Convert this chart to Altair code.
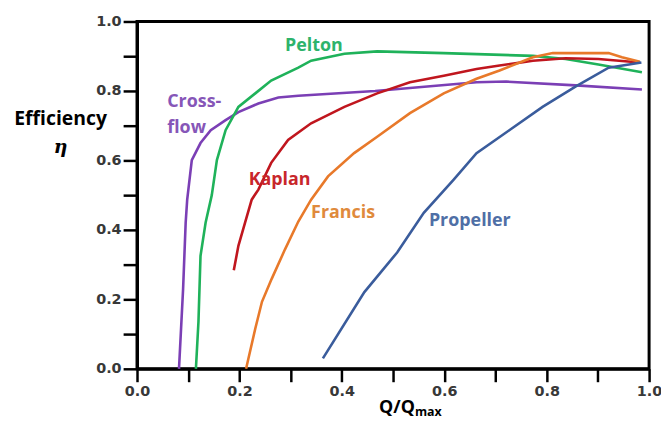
import altair as alt
import pandas as pd

# ---- data ----
crossflow_q = [0.082, 0.090, 0.095, 0.098, 0.107, 0.124, 0.144, 0.173, 0.198, 0.237, 0.276, 0.315, 0.465, 0.663, 0.721, 0.857, 0.986]
crossflow_eta = [0.0, 0.23, 0.42, 0.487, 0.601, 0.65, 0.687, 0.716, 0.739, 0.764, 0.781, 0.786, 0.800, 0.825, 0.827, 0.816, 0.804]

pelton_q = [0.115, 0.120, 0.124, 0.134, 0.146, 0.156, 0.173, 0.198, 0.231, 0.262, 0.315, 0.340, 0.405, 0.469, 0.599, 0.773, 0.837, 0.901, 0.986]
pelton_eta = [0.0, 0.136, 0.325, 0.421, 0.50, 0.601, 0.687, 0.754, 0.793, 0.83, 0.867, 0.887, 0.907, 0.914, 0.909, 0.901, 0.892, 0.876, 0.854]

kaplan_q = [0.189, 0.198, 0.211, 0.224, 0.237, 0.262, 0.295, 0.340, 0.405, 0.469, 0.533, 0.599, 0.663, 0.708, 0.773, 0.837, 0.901, 0.982]
kaplan_eta = [0.284, 0.354, 0.421, 0.487, 0.516, 0.593, 0.659, 0.707, 0.754, 0.793, 0.825, 0.844, 0.863, 0.873, 0.887, 0.894, 0.892, 0.882]

francis_q = [0.213, 0.231, 0.244, 0.263, 0.289, 0.315, 0.340, 0.373, 0.424, 0.469, 0.533, 0.599, 0.663, 0.708, 0.773, 0.812, 0.921, 0.947, 0.982]
francis_eta = [0.0, 0.116, 0.193, 0.259, 0.344, 0.424, 0.487, 0.554, 0.621, 0.668, 0.736, 0.793, 0.835, 0.859, 0.897, 0.909, 0.909, 0.897, 0.884]

propeller_q = [0.363, 0.444, 0.508, 0.560, 0.618, 0.663, 0.727, 0.792, 0.857, 0.921, 0.985]
propeller_eta = [0.030, 0.221, 0.335, 0.449, 0.544, 0.621, 0.687, 0.754, 0.813, 0.867, 0.882]

series_names = ["Cross-flow", "Pelton", "Kaplan", "Francis", "Propeller"]
series_colors = ["#7B3FB5", "#1FB25A", "#C0161E", "#E8792A", "#3A5C9C"]
label_colors = ["#8656B8", "#2DB36B", "#C8262B", "#E08A3C", "#4F6FA6"]

label_text = ["Pelton", "Cross-", "flow", "Kaplan", "Francis", "Propeller"]
label_q = [0.289, 0.059, 0.059, 0.218, 0.340, 0.570]
label_eta = [0.916, 0.753, 0.679, 0.530, 0.433, 0.411]
label_series = ["Pelton", "Cross-flow", "Cross-flow", "Kaplan", "Francis", "Propeller"]

tick_values = [0.0, 0.1, 0.2, 0.3, 0.4, 0.5, 0.6, 0.7, 0.8, 0.9, 1.0]

# ---- build tables ----
rows = []
for name, qs, es in [
    ("Cross-flow", crossflow_q, crossflow_eta),
    ("Pelton", pelton_q, pelton_eta),
    ("Kaplan", kaplan_q, kaplan_eta),
    ("Francis", francis_q, francis_eta),
    ("Propeller", propeller_q, propeller_eta),
]:
    for i, (q, e) in enumerate(zip(qs, es)):
        rows.append({"series": name, "q": q, "eta": e, "idx": i})
df = pd.DataFrame(rows)

labels = pd.DataFrame({"text": label_text, "q": label_q, "eta": label_eta, "series": label_series})

FONT = "Open Sans"
label_expr = "round(datum.value*10) % 2 == 0 ? format(datum.value, '.1f') : ''"

x_scale = alt.Scale(domain=[0, 1], nice=False)
y_scale = alt.Scale(domain=[0, 1], nice=False)

x_axis = alt.Axis(values=tick_values, labelExpr=label_expr, labelPadding=3, tickSize=13, title=None)
y_axis = alt.Axis(values=tick_values, labelExpr=label_expr, labelPadding=2, tickSize=14, title=None)

lines = alt.Chart(df).mark_line(strokeWidth=2.6, clip=False).encode(
    x=alt.X("q:Q", scale=x_scale, axis=x_axis),
    y=alt.Y("eta:Q", scale=y_scale, axis=y_axis),
    color=alt.Color("series:N", scale=alt.Scale(domain=series_names, range=series_colors), legend=None),
    detail="series:N",
    order="idx:Q",
)

texts = alt.Chart(labels).mark_text(
    font=FONT, fontSize=18, fontWeight="bold", align="left", baseline="alphabetic"
).encode(
    x=alt.X("q:Q", axis=x_axis), y=alt.Y("eta:Q", axis=y_axis), text="text:N",
    color=alt.Color("series:N", scale=alt.Scale(domain=series_names, range=label_colors), legend=None),
)

title_df = pd.DataFrame({"t": ["Efficiency", "η", "Q/Q", "max"]})

eff = alt.Chart(title_df[title_df.t == "Efficiency"]).mark_text(
    font=FONT, fontSize=19.5, fontWeight="bold", color="black", align="center", baseline="alphabetic"
).encode(text="t:N", x=alt.value(-77), y=alt.value(104.5))

eta_t = alt.Chart(title_df[title_df.t == "η"]).mark_text(
    font="DejaVu Serif", fontSize=19, fontWeight="bold", fontStyle="italic", color="black",
    align="center", baseline="alphabetic"
).encode(text="t:N", x=alt.value(-77), y=alt.value(133))

qq = alt.Chart(title_df[title_df.t == "Q/Q"]).mark_text(
    font=FONT, fontSize=18, fontWeight="bold", color="black", align="right", baseline="alphabetic"
).encode(text="t:N", x=alt.value(280), y=alt.value(395))

qmax = alt.Chart(title_df[title_df.t == "max"]).mark_text(
    font=FONT, fontSize=12.5, fontWeight="bold", color="black", align="left", baseline="alphabetic"
).encode(text="t:N", x=alt.value(280), y=alt.value(398))

chart = alt.layer(lines, texts, eff, eta_t, qq, qmax).resolve_scale(color="independent").properties(
    width=516, height=350,
    autosize=alt.AutoSizeParams(type="none"),
    padding={"left": 130, "top": 12, "right": 12, "bottom": 52},
).configure(
    background="white"
).configure_view(
    stroke="black", strokeWidth=3
).configure_axis(
    grid=False, ticks=True, tickWidth=2.5, tickColor="black",
    domain=True, domainColor="black", domainWidth=3,
    labelFont="DejaVu Sans", labelFontSize=14.5, labelFontWeight="bold", labelColor="#383838",
    labelFlush=False,
)

chart.save("out.html", embed_options={"renderer": "svg", "actions": False})
